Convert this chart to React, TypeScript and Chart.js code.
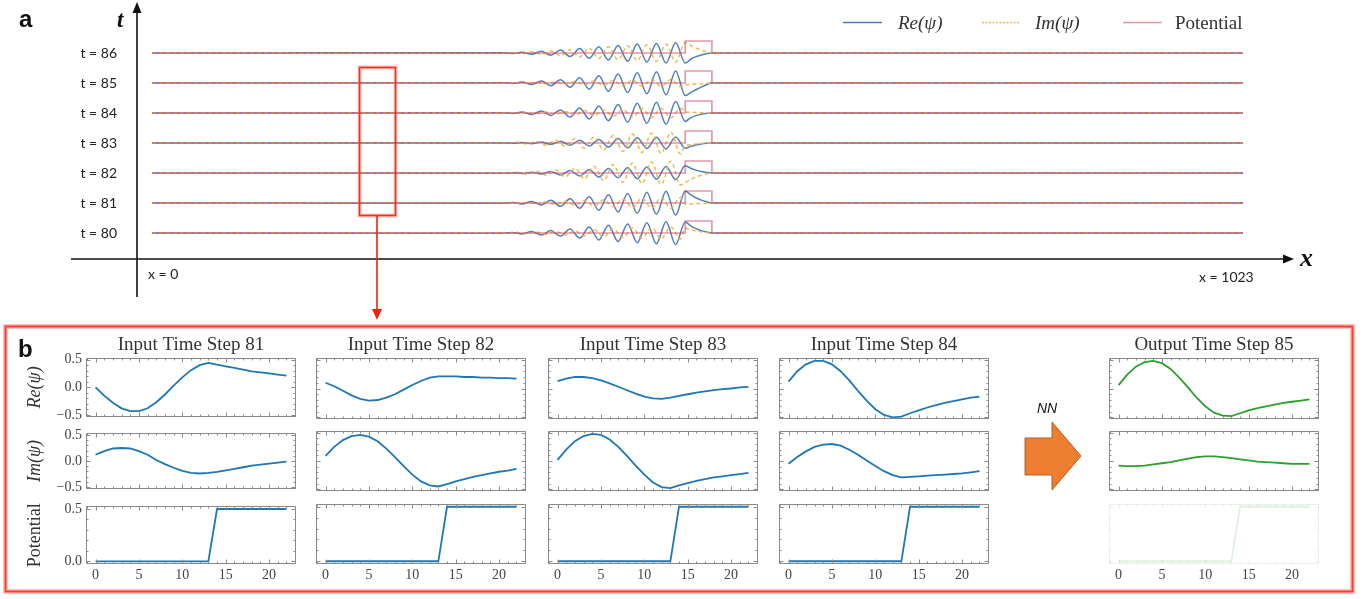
import React, { useEffect, useRef } from 'react';
import { Chart, registerables } from 'chart.js';

Chart.register(...registerables);

// ---------------- Panel a data ----------------
const timeSteps = [80, 81, 82, 83, 84, 85, 86];
const domainEnds = [0, 1023];
// x positions (grid index) of the wave extrema, two interleaved grids
const gridA = [329, 338, 347, 356, 365, 374, 383, 392, 401, 410, 419, 428, 437, 446, 455, 464, 473, 482, 491];
const gridB = [333.5, 342.5, 351.5, 360.5, 369.5, 378.5, 387.5, 396.5, 405.5, 414.5, 423.5, 432.5, 441.5, 450.5, 459.5, 468.5, 477.5, 486.5, 495.5];
// samples at the barrier edge and inside the barrier
const edgeX = [500, 505, 510, 515, 520, 525];
// potential barrier
const potX = [0, 500, 500, 525, 525, 1023];
const potV = [0, 0, 0.5, 0.5, 0, 0];

const waveRe86 = [0.01, -0.02, 0.03, -0.05, 0.07, -0.09, 0.12, -0.15, 0.19, -0.22, 0.26, -0.29, 0.31, -0.34, 0.37, -0.38, 0.4, -0.42, 0.43];
const waveRe86Edge = [-0.42, -0.26, -0.15, -0.08, -0.03, 0];
const waveIm86 = [-0.01, 0.02, -0.03, 0.05, -0.06, 0.08, -0.11, 0.14, -0.17, 0.2, -0.23, 0.26, -0.28, 0.3, -0.32, 0.34, -0.35, 0.37, -0.38];
const waveIm86Edge = [0.44, 0.32, 0.21, 0.12, 0.05, 0];

const waveRe85 = [0.01, -0.02, 0.04, -0.06, 0.08, -0.11, 0.14, -0.18, 0.22, -0.26, 0.3, -0.34, 0.37, -0.4, 0.43, -0.45, 0.47, -0.49, 0.5];
const waveRe85Edge = [-0.52, -0.4, -0.28, -0.17, -0.07, 0];
const waveIm85 = [-0.005, 0.01, -0.015, 0.02, -0.03, 0.04, -0.05, 0.06, -0.07, 0.08, -0.1, 0.11, -0.12, 0.12, -0.13, 0.14, -0.14, 0.15, -0.15];
const waveIm85Edge = [-0.08, -0.06, -0.04, -0.03, -0.01, 0];

const waveRe84 = [0.01, -0.02, 0.04, -0.06, 0.08, -0.1, 0.13, -0.17, 0.21, -0.25, 0.29, -0.32, 0.35, -0.38, 0.41, -0.43, 0.45, -0.47, 0.48];
const waveRe84Edge = [-0.35, -0.2, -0.11, -0.05, -0.02, 0];
const waveIm84 = [0.01, -0.01, 0.02, -0.03, 0.04, -0.05, 0.06, -0.08, 0.1, -0.11, 0.13, -0.14, 0.15, -0.17, 0.18, -0.18, 0.19, -0.2, 0.2];
const waveIm84Edge = [0.05, 0.03, 0.02, 0.01, 0, 0];

const waveRe83 = [0.005, -0.01, 0.02, -0.03, 0.04, -0.055, 0.07, -0.09, 0.11, -0.13, 0.15, -0.17, 0.185, -0.2, 0.215, -0.225, 0.235, -0.245, 0.25];
const waveRe83Edge = [-0.22, -0.14, -0.08, -0.04, -0.015, 0];
const waveIm83 = [-0.01, 0.03, -0.045, 0.06, -0.09, 0.11, -0.14, 0.18, -0.22, 0.25, -0.29, 0.32, -0.35, 0.37, -0.4, 0.41, -0.43, 0.45, -0.45];
const waveIm83Edge = [-0.12, -0.07, -0.04, -0.02, -0.01, 0];

const waveRe82 = [-0.01, 0.01, -0.02, 0.03, -0.04, 0.06, -0.08, 0.1, -0.12, 0.14, -0.165, 0.19, -0.2, 0.22, -0.24, 0.25, -0.26, 0.27, -0.275];
const waveRe82Edge = [0.3, 0.2, 0.12, 0.06, 0.02, 0];
const waveIm82 = [-0.015, 0.03, -0.05, 0.07, -0.095, 0.125, -0.16, 0.2, -0.24, 0.28, -0.32, 0.355, -0.385, 0.415, -0.44, 0.46, -0.48, 0.495, -0.5];
const waveIm82Edge = [-0.4, -0.27, -0.17, -0.09, -0.04, 0];

const waveRe81 = [-0.01, 0.02, -0.04, 0.06, -0.08, 0.11, -0.14, 0.18, -0.22, 0.26, -0.3, 0.34, -0.37, 0.4, -0.43, 0.45, -0.47, 0.49, -0.5];
const waveRe81Edge = [0.5, 0.35, 0.22, 0.12, 0.05, 0];
const waveIm81 = [0.01, -0.01, 0.02, -0.03, 0.04, -0.06, 0.07, -0.09, 0.11, -0.13, 0.14, -0.16, 0.17, -0.19, 0.2, -0.21, 0.22, -0.22, 0.23];
const waveIm81Edge = [-0.05, -0.04, -0.03, -0.02, -0.01, 0];

const waveRe80 = [-0.01, 0.02, -0.04, 0.06, -0.08, 0.1, -0.13, 0.17, -0.21, 0.25, -0.29, 0.32, -0.35, 0.38, -0.41, 0.43, -0.45, 0.47, -0.48];
const waveRe80Edge = [0.46, 0.3, 0.18, 0.1, 0.04, 0];
const waveIm80 = [-0.01, 0.02, -0.03, 0.04, -0.05, 0.06, -0.08, 0.1, -0.12, 0.14, -0.16, 0.18, -0.19, 0.21, -0.22, 0.23, -0.24, 0.25, -0.25];
const waveIm80Edge = [0.2, 0.14, 0.09, 0.05, 0.02, 0];

// ---------------- Panel b data ----------------
const xSteps = [0, 1, 2, 3, 4, 5, 6, 7, 8, 9, 10, 11, 12, 13, 14, 15, 16, 17, 18, 19, 20, 21, 22];
const xMajorTicks = [0, 5, 10, 15, 20];
const xMinorTicks = [-1, 1, 2, 3, 4, 6, 7, 8, 9, 11, 12, 13, 14, 16, 17, 18, 19, 21, 22, 23];
const yMajorWave = [-0.5, 0, 0.5];
const yMinorWave = [-0.4, -0.3, -0.2, -0.1, 0.1, 0.2, 0.3, 0.4];
const yMajorPot = [0, 0.5];
const yMinorPot = [0.1, 0.2, 0.3, 0.4];

const inRe81 = [0.0, -0.15, -0.28, -0.38, -0.43, -0.43, -0.38, -0.27, -0.13, 0.03, 0.18, 0.31, 0.4, 0.44, 0.41, 0.38, 0.35, 0.32, 0.29, 0.27, 0.25, 0.23, 0.21];
const inIm81 = [0.12, 0.19, 0.24, 0.25, 0.24, 0.19, 0.12, 0.02, -0.06, -0.13, -0.19, -0.23, -0.24, -0.23, -0.21, -0.18, -0.15, -0.12, -0.09, -0.07, -0.05, -0.03, -0.01];
const inRe82 = [0.1, 0.04, -0.04, -0.12, -0.18, -0.21, -0.2, -0.16, -0.1, -0.02, 0.06, 0.13, 0.19, 0.21, 0.21, 0.21, 0.2, 0.2, 0.19, 0.19, 0.18, 0.18, 0.17];
const inIm82 = [0.09, 0.25, 0.37, 0.44, 0.46, 0.43, 0.35, 0.22, 0.07, -0.09, -0.24, -0.36, -0.43, -0.45, -0.41, -0.36, -0.32, -0.28, -0.25, -0.22, -0.19, -0.17, -0.14];
const inRe83 = [0.13, 0.17, 0.2, 0.2, 0.18, 0.14, 0.09, 0.03, -0.03, -0.09, -0.14, -0.17, -0.18, -0.16, -0.13, -0.1, -0.07, -0.05, -0.03, -0.01, 0.0, 0.02, 0.03];
const inIm83 = [0.02, 0.2, 0.35, 0.44, 0.48, 0.46, 0.38, 0.25, 0.09, -0.08, -0.24, -0.38, -0.46, -0.48, -0.43, -0.39, -0.35, -0.32, -0.29, -0.27, -0.25, -0.23, -0.21];
const inRe84 = [0.12, 0.3, 0.42, 0.48, 0.48, 0.42, 0.3, 0.14, -0.04, -0.21, -0.36, -0.46, -0.5, -0.49, -0.43, -0.38, -0.33, -0.29, -0.25, -0.22, -0.19, -0.16, -0.14];
const inIm84 = [-0.05, 0.07, 0.17, 0.25, 0.29, 0.3, 0.27, 0.2, 0.11, 0.01, -0.09, -0.18, -0.25, -0.29, -0.28, -0.27, -0.26, -0.25, -0.24, -0.23, -0.22, -0.2, -0.18];
const outRe85 = [0.06, 0.24, 0.38, 0.46, 0.48, 0.44, 0.34, 0.19, 0.02, -0.16, -0.31, -0.42, -0.47, -0.48, -0.43, -0.38, -0.34, -0.31, -0.28, -0.25, -0.23, -0.21, -0.19];
const outIm85 = [-0.08, -0.09, -0.09, -0.08, -0.06, -0.04, -0.02, 0.01, 0.04, 0.07, 0.08, 0.08, 0.07, 0.05, 0.03, 0.01, -0.01, -0.02, -0.03, -0.04, -0.05, -0.05, -0.05];
const potentialB = [0, 0, 0, 0, 0, 0, 0, 0, 0, 0, 0, 0, 0, 0, 0.5, 0.5, 0.5, 0.5, 0.5, 0.5, 0.5, 0.5, 0.5];

// ---------------- styles ----------------
const WAVE_BLUE = 'rgba(50,105,175,0.85)';
const WAVE_YELLOW = 'rgba(238,178,60,0.9)';
const POT_RED = 'rgba(205,70,95,0.55)';
const LINE_BLUE = '#1f77b4';
const LINE_GREEN = '#2ca02c';
const SERIF = "'Liberation Serif', 'Times New Roman', serif";
const SANS = "'Liberation Sans', Arial, sans-serif";

const rowsA = [
  { t: 86, re: waveRe86, reGrid: gridA, reEdge: waveRe86Edge, im: waveIm86, imGrid: gridA, imEdge: waveIm86Edge },
  { t: 85, re: waveRe85, reGrid: gridA, reEdge: waveRe85Edge, im: waveIm85, imGrid: gridB, imEdge: waveIm85Edge },
  { t: 84, re: waveRe84, reGrid: gridA, reEdge: waveRe84Edge, im: waveIm84, imGrid: gridB, imEdge: waveIm84Edge },
  { t: 83, re: waveRe83, reGrid: gridA, reEdge: waveRe83Edge, im: waveIm83, imGrid: gridB, imEdge: waveIm83Edge },
  { t: 82, re: waveRe82, reGrid: gridA, reEdge: waveRe82Edge, im: waveIm82, imGrid: gridB, imEdge: waveIm82Edge },
  { t: 81, re: waveRe81, reGrid: gridA, reEdge: waveRe81Edge, im: waveIm81, imGrid: gridB, imEdge: waveIm81Edge },
  { t: 80, re: waveRe80, reGrid: gridA, reEdge: waveRe80Edge, im: waveIm80, imGrid: gridB, imEdge: waveIm80Edge },
];

const subCols = [
  { title: 'Input Time Step 81', re: inRe81, im: inIm81, color: LINE_BLUE, output: false },
  { title: 'Input Time Step 82', re: inRe82, im: inIm82, color: LINE_BLUE, output: false },
  { title: 'Input Time Step 83', re: inRe83, im: inIm83, color: LINE_BLUE, output: false },
  { title: 'Input Time Step 84', re: inRe84, im: inIm84, color: LINE_BLUE, output: false },
  { title: 'Output Time Step 85', re: outRe85, im: outIm85, color: LINE_GREEN, output: true },
];

const colLeft = [86, 316, 548, 779, 1109];
const plotW = 210;
const rowTop = [358, 431, 504];
const rowH = [61, 60, 60];

const framePlugin = {
  id: 'frame',
  afterDatasetsDraw(chart: any, _args: any, opts: any) {
    const { ctx, chartArea: a } = chart;
    const xs = chart.scales.x;
    const ys = chart.scales.y;
    ctx.save();
    ctx.strokeStyle = opts.color;
    ctx.lineWidth = 1;
    const L = Math.round(a.left) + 0.5;
    const R = Math.round(a.right) - 0.5;
    const T = Math.round(a.top) + 0.5;
    const B = Math.round(a.bottom) - 0.5;
    ctx.beginPath();
    ctx.rect(L, T, R - L, B - T);
    const xt = (vals: number[], len: number) =>
      vals.forEach((v) => {
        const p = Math.round(xs.getPixelForValue(v)) + 0.5;
        ctx.moveTo(p, B); ctx.lineTo(p, B - len);
        ctx.moveTo(p, T); ctx.lineTo(p, T + len);
      });
    const yt = (vals: number[], len: number) =>
      vals.forEach((v) => {
        const p = Math.round(ys.getPixelForValue(v)) + 0.5;
        ctx.moveTo(L, p); ctx.lineTo(L + len, p);
        ctx.moveTo(R, p); ctx.lineTo(R - len, p);
      });
    xt(opts.xMajor, 4); xt(opts.xMinor, 2);
    yt(opts.yMajor, 4); yt(opts.yMinor, 2);
    ctx.stroke();
    ctx.restore();
  },
};

function ChartBox(props: { left: number; top: number; width: number; height: number; make: (c: HTMLCanvasElement) => Chart }) {
  const ref = useRef<HTMLCanvasElement>(null);
  useEffect(() => {
    const ch = props.make(ref.current as HTMLCanvasElement);
    return () => ch.destroy();
  }, []);
  return (
    <canvas
      ref={ref}
      width={props.width}
      height={props.height}
      style={{ position: 'absolute', left: props.left, top: props.top, width: props.width, height: props.height }}
    />
  );
}

const K = 0.8; // vertical display scale of ψ and V relative to one time step

function makePanelA(canvas: HTMLCanvasElement) {
  const build = (t: number, grid: number[], vals: number[], edge: number[]) => [
    { x: domainEnds[0], y: t },
    ...grid.map((x, i) => ({ x, y: t + K * vals[i] })),
    ...edgeX.map((x, i) => ({ x, y: t + K * edge[i] })),
    { x: domainEnds[1], y: t },
  ];
  const pots = rowsA.map((r) => ({
    data: potX.map((x, i) => ({ x, y: r.t + K * potV[i] })),
    borderColor: POT_RED, borderWidth: 1.7, pointRadius: 0, tension: 0, clip: false as any,
  }));
  const ims = rowsA.map((r) => ({
    data: build(r.t, r.imGrid, r.im, r.imEdge),
    borderColor: WAVE_YELLOW, borderWidth: 1.5, borderDash: [4, 3], pointRadius: 0,
    cubicInterpolationMode: 'monotone' as const, clip: false as any,
  }));
  const res = rowsA.map((r) => ({
    data: build(r.t, r.reGrid, r.re, r.reEdge),
    borderColor: WAVE_BLUE, borderWidth: 1.5, pointRadius: 0,
    cubicInterpolationMode: 'monotone' as const, clip: false as any,
  }));
  return new Chart(canvas, {
    type: 'line',
    data: { datasets: [...pots, ...ims, ...res] as any },
    options: {
      responsive: false, animation: false, devicePixelRatio: 1,
      layout: { padding: { left: 52, right: 123, top: 53, bottom: 67 } },
      plugins: { legend: { display: false }, tooltip: { enabled: false } },
      scales: {
        x: { type: 'linear', min: domainEnds[0], max: domainEnds[1], display: false },
        y: {
          type: 'linear', min: 80, max: 86,
          grid: { display: false, drawTicks: false }, border: { display: false },
          ticks: { padding: 35, color: '#222', font: { family: 'Lato', size: 14 }, callback: (v: any) => `t = ${v}` },
          afterBuildTicks: (s: any) => { s.ticks = timeSteps.map((v) => ({ value: v })); },
          afterFit: (s: any) => { s.width = 100; },
        },
      },
    } as any,
  });
}

function fmtTick(v: any) {
  const n = Number(v);
  return (n < 0 ? '\u2212' : '') + Math.abs(n).toFixed(1);
}

function makeSub(canvas: HTMLCanvasElement, col: number, row: number) {
  const c = subCols[col];
  const vals = row === 0 ? c.re : row === 1 ? c.im : potentialB;
  const isPot = row === 2;
  const faded = c.output && isPot;
  const yTitles = ['Re(ψ)', 'Im(ψ)', 'Potential'];
  const showX = row === 2;
  const showY = col === 0;
  return new Chart(canvas, {
    type: 'line',
    data: {
      datasets: [{
        data: xSteps.map((x, i) => ({ x, y: vals[i] })),
        borderColor: faded ? 'rgba(44,160,44,0.14)' : c.color,
        borderWidth: 1.8, pointRadius: 0, tension: 0,
      }],
    },
    options: {
      responsive: false, animation: false, devicePixelRatio: 1,
      layout: {
        padding: {
          left: showY ? 0 : 8, right: 6,
          top: row === 0 ? 0 : 10, bottom: showX ? 0 : 10,
        },
      },
      plugins: {
        legend: { display: false }, tooltip: { enabled: false },
        title: {
          display: row === 0, text: c.title, fullSize: false, color: '#333',
          font: { family: SERIF, size: 19, weight: 'normal' }, padding: { top: 0, bottom: 1.2 },
        },
        frame: {
          color: faded ? 'rgba(140,140,140,0.15)' : '#8a8a8a',
          xMajor: xMajorTicks, xMinor: xMinorTicks,
          yMajor: isPot ? yMajorPot : yMajorWave, yMinor: isPot ? yMinorPot : yMinorWave,
        },
      },
      scales: {
        x: {
          type: 'linear', min: -1.1, max: 23.1, display: showX,
          grid: { display: false, drawTicks: false }, border: { display: false },
          ticks: { padding: 3, color: '#444', font: { family: SERIF, size: 14 }, callback: (v: any) => String(v) },
          afterBuildTicks: (s: any) => { s.ticks = xMajorTicks.map((v) => ({ value: v })); },
          afterFit: (s: any) => { s.height = showX ? 20 : 0; },
        },
        y: {
          type: 'linear', min: isPot ? -0.025 : -0.53, max: isPot ? 0.525 : 0.53, display: showY,
          grid: { display: false, drawTicks: false }, border: { display: false },
          ticks: { padding: 4, color: '#444', font: { family: SERIF, size: 14 }, callback: fmtTick },
          afterBuildTicks: (s: any) => { s.ticks = (isPot ? yMajorPot : yMajorWave).map((v) => ({ value: v })); },
          afterFit: (s: any) => { s.width = showY ? 62 : 0; },
          title: {
            display: true, text: yTitles[row], color: '#333', padding: 0,
            font: { family: SERIF, size: 18, style: isPot ? 'normal' : 'italic' },
          },
        },
      },
    } as any,
    plugins: [framePlugin as any],
  });
}

function Txt(props: { x: number; y: number; size: number; family: string; weight?: string; italic?: boolean; color?: string; children: any }) {
  return (
    <div
      style={{
        position: 'absolute', left: props.x, top: props.y, fontSize: props.size, lineHeight: 1,
        fontFamily: props.family, fontWeight: (props.weight as any) || 'normal',
        fontStyle: props.italic ? 'italic' : 'normal', color: props.color || '#222', whiteSpace: 'nowrap',
      }}
    >
      {props.children}
    </div>
  );
}

export default function App() {
  const subs: any[] = [];
  for (let col = 0; col < 5; col++) {
    for (let row = 0; row < 3; row++) {
      const L = col === 0 ? 62 : 8;
      const T = row === 0 ? 24 : 10;
      const B = row === 2 ? 20 : 10;
      subs.push(
        <ChartBox
          key={`s${col}-${row}`}
          left={colLeft[col] - L}
          top={rowTop[row] - T}
          width={L + plotW + 6}
          height={T + rowH[row] + B}
          make={(c) => makeSub(c, col, row)}
        />,
      );
    }
  }
  return (
    <div style={{ position: 'fixed', left: 0, top: 0, width: 1366, height: 599, background: '#fff', overflow: 'hidden' }}>
      <ChartBox left={0} top={0} width={1366} height={300} make={makePanelA} />
      {subs}
      <svg width={1366} height={599} style={{ position: 'absolute', left: 0, top: 0, pointerEvents: 'none' }}>
        {/* axes of panel a */}
        <line x1={137} y1={297} x2={137} y2={10} stroke="#111" strokeWidth={1.6} />
        <polygon points="137,2 132.5,13 141.5,13" fill="#111" />
        <line x1={71} y1={259} x2={1284} y2={259} stroke="#111" strokeWidth={1.6} />
        <polygon points="1294,259 1283,254.5 1283,263.5" fill="#111" />
        {/* legend samples */}
        <line x1={843} y1={22.5} x2={882} y2={22.5} stroke={WAVE_BLUE} strokeWidth={1.5} />
        <line x1={982} y1={22.5} x2={1020} y2={22.5} stroke={WAVE_YELLOW} strokeWidth={1.5} strokeDasharray="2,1.5" />
        <line x1={1123} y1={22.5} x2={1162} y2={22.5} stroke={POT_RED} strokeWidth={1.6} />
        {/* highlight window and arrow */}
        <rect x={359.5} y={67.5} width={36} height={148} fill="none" stroke="rgba(255,90,70,0.35)" strokeWidth={4} />
        <rect x={359.5} y={67.5} width={36} height={148} fill="none" stroke="#ff2a1a" strokeWidth={1.6} />
        <line x1={377} y1={216} x2={377} y2={310} stroke="#ee2211" strokeWidth={1.6} />
        <polygon points="377,320 372,309 382,309" fill="#ee2211" />
        {/* panel b frame */}
        <rect x={5.5} y={326.5} width={1347} height={265} fill="none" stroke="rgba(255,90,70,0.35)" strokeWidth={5} />
        <rect x={5.5} y={326.5} width={1347} height={265} fill="none" stroke="#ff3b2f" strokeWidth={2} />
        {/* NN arrow */}
        <polygon points="1025,438 1052,438 1052,422 1081,456 1052,490 1052,475 1025,475" fill="#ed7d31" stroke="#b8612a" strokeWidth={1} />
      </svg>
      <Txt x={19} y={7} size={24} family={SANS} weight="bold" color="#111">a</Txt>
      <Txt x={117} y={8} size={23} family={SERIF} weight="bold" italic color="#111">t</Txt>
      <Txt x={1300} y={245} size={26} family={SERIF} weight="bold" italic color="#111">x</Txt>
      <Txt x={148} y={267} size={14} family="Lato">x = 0</Txt>
      <Txt x={1199} y={270} size={14} family="Lato">x = 1023</Txt>
      <Txt x={898} y={13} size={19} family={SERIF} italic color="#333">Re(ψ)</Txt>
      <Txt x={1035} y={13} size={19} family={SERIF} italic color="#333">Im(ψ)</Txt>
      <Txt x={1175} y={13} size={19} family={SERIF} color="#333">Potential</Txt>
      <Txt x={18} y={337} size={24} family={SANS} weight="bold" color="#111">b</Txt>
      <Txt x={1037} y={401} size={14} family={SANS} italic color="#111">NN</Txt>
    </div>
  );
}
